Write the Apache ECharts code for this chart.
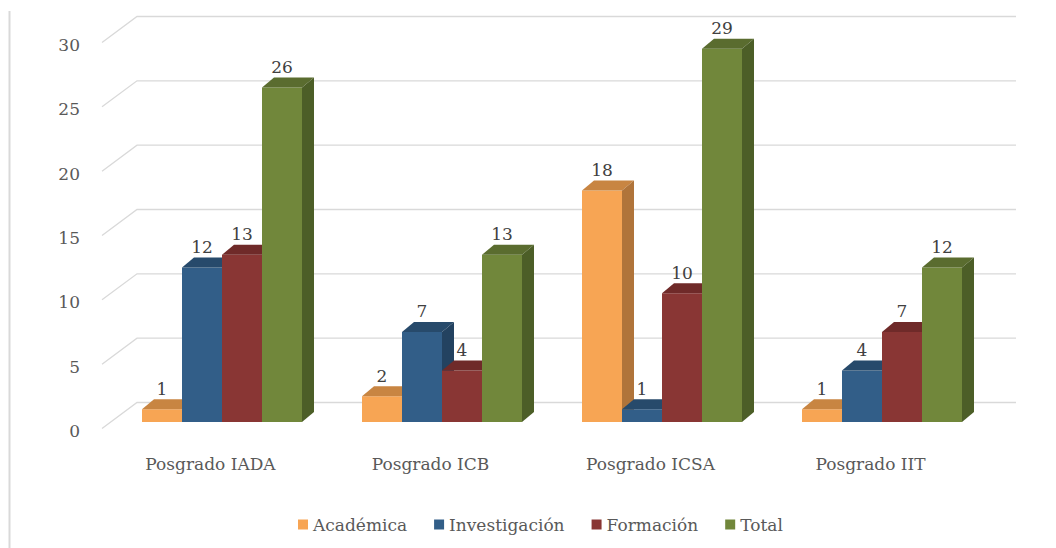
<!DOCTYPE html>
<html>
<head>
<meta charset="utf-8">
<script src="https://cdn.jsdelivr.net/npm/echarts@6/dist/echarts.min.js"></script>
<style>
  html, body { margin: 0; padding: 0; background: #ffffff; }
  #chart { width: 1056px; height: 548px; }
</style>
</head>
<body>
<div id="chart"></div>
<script>
// datos
const categories = ["Posgrado IADA", "Posgrado ICB", "Posgrado ICSA", "Posgrado IIT"];
const academica = [1, 2, 18, 1];
const investigacion = [12, 7, 1, 4];
const formacion = [13, 4, 10, 7];
const total = [26, 13, 29, 12];
const yTicks = [0, 5, 10, 15, 20, 25, 30];

const FONT = "DejaVu Serif";
const GRAY = "#595959";
const GRID_COLOR = "#D9D9D9";
// profundidad de la pared (frente -> fondo) y de cada barra
const WALL_DX = 35, WALL_DY = -26;
const BAR_DX = 12, BAR_DY = -10;

const seriesDefs = [
  { name: "Académica", data: academica, front: "#F7A554", top: "#C88542", side: "#B0743A" },
  { name: "Investigación", data: investigacion, front: "#325E88", top: "#274A6B", side: "#234260" },
  { name: "Formación", data: formacion, front: "#893634", top: "#6F2A29", side: "#602624" },
  { name: "Total", data: total, front: "#71873B", top: "#5A6C2F", side: "#4C5E27" }
];

const chart = echarts.init(document.getElementById("chart"), null, { renderer: "svg" });

// barra 3D: cara frontal, tapa y lateral
function bar3d(s) {
  return function (params, api) {
    const ci = api.value(0);
    const v = api.value(1);
    const base = api.coord([ci, 0]);
    const top = api.coord([ci, v]);
    const band = api.size([1, 0])[0];
    const bw = band * 40 / 220;
    const x0 = base[0] - 2 * bw + s * bw;
    const d = seriesDefs[s];
    return {
      type: "group",
      children: [
        {
          type: "rect",
          shape: { x: x0, y: top[1], width: bw, height: base[1] - top[1] },
          style: { fill: d.front }
        },
        {
          type: "polygon",
          shape: { points: [[x0, top[1]], [x0 + bw, top[1]], [x0 + bw + BAR_DX, top[1] + BAR_DY], [x0 + BAR_DX, top[1] + BAR_DY]] },
          style: { fill: d.top }
        },
        {
          type: "polygon",
          shape: { points: [[x0 + bw, top[1]], [x0 + bw + BAR_DX, top[1] + BAR_DY], [x0 + bw + BAR_DX, base[1] + BAR_DY], [x0 + bw, base[1]]] },
          style: { fill: d.side }
        },
        {
          type: "text",
          z2: 100,
          style: {
            text: String(v),
            x: x0 + bw / 2,
            y: top[1] + BAR_DY - 2,
            align: "center",
            verticalAlign: "bottom",
            fill: "#404040",
            font: "17px '" + FONT + "'"
          }
        }
      ]
    };
  };
}

// líneas de la pared del fondo con su tramo diagonal
function wallLine(params, api) {
  const v = api.value(0);
  const left = api.coord([0, v]);
  const right = api.coord([1, v]);
  return {
    type: "polyline",
    shape: { points: [[left[0] - WALL_DX, left[1] - WALL_DY], left, right] },
    style: { stroke: GRID_COLOR, lineWidth: 1.3, fill: null }
  };
}

const series = [
  {
    type: "custom",
    xAxisIndex: 0,
    yAxisIndex: 0,
    silent: true,
    renderItem: wallLine,
    data: yTicks.map(t => [t]),
    encode: { y: 0 },
    z: 1
  }
];
seriesDefs.forEach((d, s) => {
  series.push({
    name: d.name,
    type: "custom",
    xAxisIndex: 2,
    yAxisIndex: 2,
    itemStyle: { color: d.front },
    renderItem: bar3d(s),
    data: d.data.map((v, i) => [i, v]),
    encode: { x: 0, y: 1 },
    z: 2
  });
});

const option = {
  animation: false,
  backgroundColor: "#ffffff",
  graphic: [
    {
      type: "line",
      shape: { x1: 9.5, y1: 11, x2: 9.5, y2: 548 },
      style: { stroke: GRID_COLOR, lineWidth: 2 }
    }
  ],
  legend: {
    data: seriesDefs.map(d => d.name),
    left: 293,
    top: 511,
    icon: "rect",
    itemWidth: 10,
    itemHeight: 10,
    itemGap: 27,
    textStyle: { color: GRAY, fontSize: 17, fontFamily: FONT }
  },
  grid: [
    // pared del fondo
    { left: 137, top: 16.5, width: 879, height: 386 },
    // eje de etiquetas (frente)
    { left: 102, top: 45, width: 10, height: 386 },
    // plano de las barras
    { left: 112, top: 36, width: 880, height: 386 }
  ],
  xAxis: [
    { gridIndex: 0, type: "value", min: 0, max: 1, show: false },
    { gridIndex: 1, type: "value", min: 0, max: 1, show: false },
    {
      gridIndex: 2,
      type: "category",
      data: categories,
      axisLine: { show: false },
      axisTick: { show: false },
      axisLabel: {
        margin: 33,
        color: GRAY,
        fontSize: 17,
        fontFamily: FONT,
        padding: [0, 23, 0, 0]
      }
    }
  ],
  yAxis: [
    { gridIndex: 0, type: "value", min: 0, max: 30, interval: 5, show: false },
    {
      gridIndex: 1,
      type: "value",
      min: 0,
      max: 30,
      interval: 5,
      axisLine: { show: false },
      axisTick: { show: false },
      splitLine: { show: false },
      axisLabel: { margin: 22, color: GRAY, fontSize: 17, fontFamily: FONT }
    },
    { gridIndex: 2, type: "value", min: 0, max: 30, interval: 5, show: false }
  ],
  series: series
};

chart.setOption(option);
</script>
</body>
</html>
